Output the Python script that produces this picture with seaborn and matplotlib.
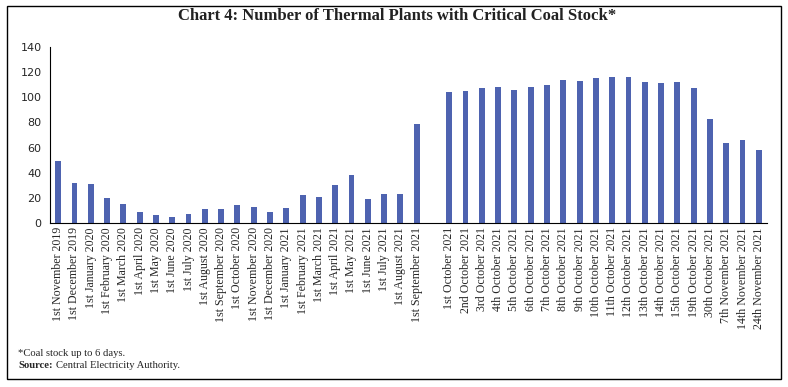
import pandas as pd
import numpy as np
import matplotlib
matplotlib.use("Agg")
import matplotlib.pyplot as plt
from matplotlib.patches import Rectangle
from matplotlib.ticker import FixedLocator
import seaborn as sns

# Data
monthly_labels = [
    "1st November 2019", "1st December 2019", "1st January 2020", "1st February 2020",
    "1st March 2020", "1st April 2020", "1st May 2020", "1st June 2020", "1st July 2020",
    "1st August 2020", "1st September 2020", "1st October 2020", "1st November 2020",
    "1st December 2020", "1st January 2021", "1st February 2021", "1st March 2021",
    "1st April 2021", "1st May 2021", "1st June 2021", "1st July 2021",
    "1st August 2021", "1st September 2021",
]
monthly_values = [49, 32, 31, 20, 15, 9, 6, 5, 7, 11, 11, 14, 13, 9, 12, 22, 21, 30, 38, 19, 23, 23, 79]

daily_labels = [
    "1st October 2021", "2nd October 2021", "3rd October 2021", "4th October 2021",
    "5th October 2021", "6th October 2021", "7th October 2021", "8th October 2021",
    "9th October 2021", "10th October 2021", "11th October 2021", "12th October 2021",
    "13th October 2021", "14th October 2021", "15th October 2021", "19th October 2021",
    "30th October 2021", "7th November 2021", "14th November 2021", "24th November 2021",
]
daily_values = [104, 105, 107, 108, 106, 108, 110, 114, 113, 115, 116, 116,
                112, 111, 112, 107, 83, 64, 66, 58]

# one empty slot separates the monthly and daily series
labels = monthly_labels + [" "] + daily_labels
values = monthly_values + [np.nan] + daily_values
df = pd.DataFrame({"date": labels, "plants": values})

sns.set_style("white")
plt.rcParams["font.family"] = ["DejaVu Sans"]

fig = plt.figure(figsize=(7.88, 3.87), dpi=100)
ax = fig.add_axes([50 / 788, 1 - 223 / 387, 717 / 788, 176 / 387])

sns.barplot(data=df, x="date", y="plants", order=labels, color="#4E63B0",
            width=0.36, saturation=1, linewidth=0, ax=ax)

ax.set_xlim(-0.5, len(labels) - 0.5)
ax.set_ylim(0, 140)
ax.set_yticks(range(0, 141, 20))
ax.set_xlabel("")
ax.set_ylabel("")

ax.set_xticks(range(len(labels)))
ax.set_xticklabels(labels, rotation=90, family="Liberation Serif", fontsize=8.6)
ax.xaxis.set_minor_locator(FixedLocator(np.arange(-0.5, len(labels), 1)))
ax.tick_params(axis="x", which="major", length=0, pad=3)
ax.tick_params(axis="x", which="minor", length=4, width=0.8, direction="out", color="black")
ax.tick_params(axis="y", length=4, width=0.8, direction="out", color="black",
               labelsize=8, pad=2)

for s in ["top", "right"]:
    ax.spines[s].set_visible(False)
for s in ["left", "bottom"]:
    ax.spines[s].set_color("black")
    ax.spines[s].set_linewidth(0.8)

fig.text(397 / 788, 1 - 16 / 387, "Chart 4: Number of Thermal Plants with Critical Coal Stock*",
         ha="center", va="center", fontsize=12, fontweight="bold", family="Liberation Serif",
         color="#222222")
fig.text(18 / 788, 1 - 353 / 387, "*Coal stock up to 6 days.",
         ha="left", va="center", fontsize=7.7, family="Liberation Serif")
src = fig.text(18 / 788, 1 - 366 / 387, "Source:",
               ha="left", va="center", fontsize=7.7, family="Liberation Serif", fontweight="bold")
fig.canvas.draw()
bb = src.get_window_extent(fig.canvas.get_renderer())
fig.text((bb.x1 + 3) / 788, 1 - 366 / 387, "Central Electricity Authority.",
         ha="left", va="center", fontsize=7.7, family="Liberation Serif")

fig.patches.append(Rectangle((7 / 788, 1 - 379 / 387), 774 / 788, 373 / 387,
                             transform=fig.transFigure, fill=False,
                             edgecolor="black", linewidth=1))

fig.savefig("out.png", dpi=100)
